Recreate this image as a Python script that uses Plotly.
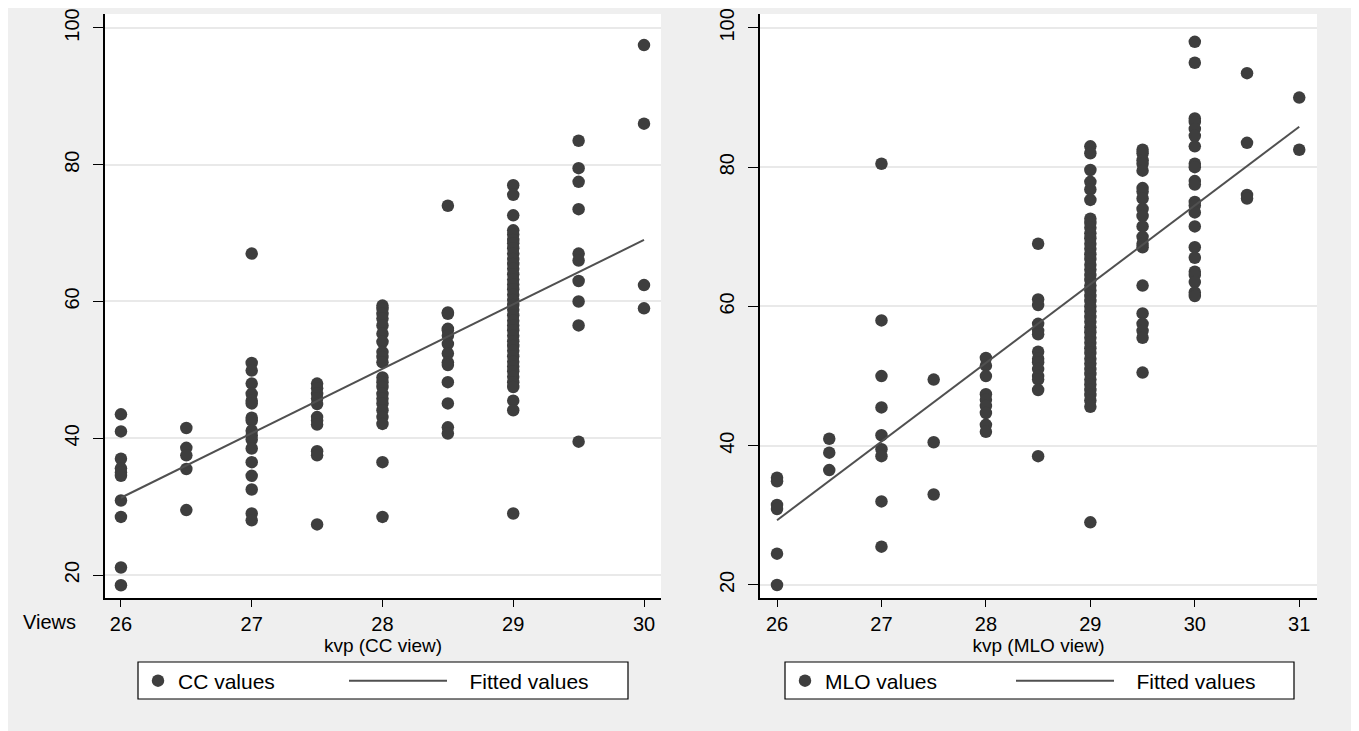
import plotly.graph_objects as go

W, H = 1359, 731
FONT = "Liberation Sans, Arial, sans-serif"

# ---- Data: CC view (left) ----
cc_26 = [43.5, 41.0, 37.0, 35.6, 35.0, 34.5, 30.9, 28.5, 21.1, 18.5]
cc_265 = [41.5, 38.6, 37.5, 35.5, 29.5]
cc_27 = [67.0, 51.0, 49.9, 48.0, 46.5, 45.5, 45.1, 43.0, 42.6, 41.1, 40.4,
         39.8, 38.5, 36.5, 34.5, 32.5, 29.0, 28.0]
cc_275 = [48.0, 47.3, 46.5, 45.8, 45.0, 43.1, 42.6, 42.0, 38.1, 37.5, 27.4]
cc_28 = [59.4, 58.9, 58.2, 57.5, 56.5, 55.3, 54.1, 52.6, 51.9, 51.1, 48.9,
         48.2, 47.5, 46.5, 45.8, 45.1, 44.1, 43.1, 42.1, 36.5, 28.5]
cc_285 = [74.0, 58.4, 58.2, 56.0, 55.8, 55.0, 53.8, 52.4, 51.1, 50.7, 48.2,
          45.1, 41.6, 40.7]
cc_29 = [77.0, 75.6, 72.6, 70.4, 69.8, 69.0, 68.5, 67.8, 67.0, 66.2, 65.5,
         64.8, 64.0, 63.2, 62.5, 61.8, 61.0, 60.2, 59.5, 58.8, 58.0, 57.2,
         56.5, 55.8, 55.0, 54.2, 53.5, 52.8, 52.0, 51.2, 50.5, 49.8, 49.0,
         48.2, 47.5, 45.5, 44.1, 29.0]
cc_295 = [83.5, 79.5, 77.5, 73.5, 67.0, 66.0, 63.0, 60.0, 56.5, 39.5]
cc_30 = [97.5, 86.0, 62.4, 59.0]
cc_levels = [26, 26.5, 27, 27.5, 28, 28.5, 29, 29.5, 30]
cc_groups = [cc_26, cc_265, cc_27, cc_275, cc_28, cc_285, cc_29, cc_295, cc_30]
cc_fit_x = [26, 30]
cc_fit_y = [31.3, 69.0]

# ---- Data: MLO view (right) ----
mlo_26 = [35.4, 34.9, 31.5, 30.9, 24.5, 20.0]
mlo_265 = [41.0, 39.0, 36.5]
mlo_27 = [80.5, 58.0, 50.0, 45.5, 41.5, 39.5, 38.5, 32.0, 25.5]
mlo_275 = [49.5, 40.5, 33.0]
mlo_28 = [52.6, 51.5, 50.0, 47.4, 46.6, 45.7, 44.7, 43.0, 42.0]
mlo_285 = [69.0, 61.0, 60.2, 57.5, 56.5, 56.0, 53.5, 52.5, 52.0, 51.0, 50.0,
           49.5, 48.0, 38.5]
mlo_29 = [83.0, 82.0, 79.6, 77.9, 76.8, 75.3, 72.6, 72.0, 71.3, 70.5, 69.8,
          69.0, 68.3, 67.5, 66.8, 66.0, 65.3, 64.5, 63.8, 63.0, 62.3, 61.5,
          60.8, 60.0, 59.3, 58.5, 57.8, 57.0, 56.3, 55.5, 54.8, 54.0, 53.3,
          52.5, 51.8, 51.0, 50.3, 49.5, 48.8, 48.0, 47.3, 46.5, 45.6, 29.0]
mlo_295 = [82.5, 82.0, 81.0, 80.5, 79.5, 77.0, 76.5, 75.5, 74.0, 73.0, 71.5,
           70.0, 69.0, 68.5, 63.0, 59.0, 57.5, 56.5, 55.5, 50.5]
mlo_30 = [98.0, 95.0, 87.0, 86.5, 85.5, 84.5, 83.0, 80.5, 80.0, 78.0, 77.5,
          75.0, 74.5, 73.5, 71.5, 68.5, 67.0, 65.0, 64.5, 63.5, 62.0, 61.5]
mlo_305 = [93.5, 83.5, 76.0, 75.5]
mlo_31 = [90.0, 82.5]
mlo_levels = [26, 26.5, 27, 27.5, 28, 28.5, 29, 29.5, 30, 30.5, 31]
mlo_groups = [mlo_26, mlo_265, mlo_27, mlo_275, mlo_28, mlo_285, mlo_29,
              mlo_295, mlo_30, mlo_305, mlo_31]
mlo_fit_x = [26, 31]
mlo_fit_y = [29.3, 85.8]

y_ticks = [20, 40, 60, 80, 100]
cc_x_ticks = [26, 27, 28, 29, 30]
mlo_x_ticks = [26, 27, 28, 29, 30, 31]


def flatten(levels, groups):
    xs, ys = [], []
    for lv, g in zip(levels, groups):
        for v in g:
            xs.append(lv)
            ys.append(v)
    return xs, ys


cc_x, cc_y = flatten(cc_levels, cc_groups)
mlo_x, mlo_y = flatten(mlo_levels, mlo_groups)

DOT = "#3e3e3e"
LINE = "#505050"
FIT_LABEL = "\u00a0\u00a0\u00a0Fitted values"

fig = go.Figure()
fig.add_trace(go.Scatter(x=cc_x, y=cc_y, mode="markers", name="CC values",
                         marker=dict(color=DOT, size=12.5), xaxis="x", yaxis="y",
                         legend="legend"))
fig.add_trace(go.Scatter(x=cc_fit_x, y=cc_fit_y, mode="lines", name=FIT_LABEL,
                         line=dict(color=LINE, width=2), xaxis="x", yaxis="y",
                         legend="legend3"))
fig.add_trace(go.Scatter(x=mlo_x, y=mlo_y, mode="markers", name="MLO values",
                         marker=dict(color=DOT, size=12.5), xaxis="x2", yaxis="y2",
                         legend="legend2"))
fig.add_trace(go.Scatter(x=mlo_fit_x, y=mlo_fit_y, mode="lines", name=FIT_LABEL,
                         line=dict(color=LINE, width=2), xaxis="x2", yaxis="y2",
                         legend="legend4"))

TICKFONT = dict(size=20, color="black", family=FONT)


def xaxis(domain, rng, ticks, title, anchor):
    return dict(domain=domain, range=rng, tickvals=ticks, ticktext=[str(t) for t in ticks],
                showgrid=False, zeroline=False, showline=True, linecolor="black",
                linewidth=1.5, ticks="outside", ticklen=7, tickwidth=1.2,
                tickcolor="black", tickfont=TICKFONT,
                title=dict(text=title, font=dict(size=19, color="black", family=FONT),
                           standoff=0),
                automargin=False, fixedrange=True, anchor=anchor)


def yaxis(domain, rng, anchor):
    return dict(domain=domain, range=rng, tickvals=y_ticks,
                ticktext=[str(t) for t in y_ticks], tickangle=-90,
                showgrid=True, gridcolor="#e9e9e9", gridwidth=1.5, zeroline=False,
                showline=True, linecolor="black", linewidth=1.5, ticks="outside",
                ticklen=10, tickwidth=1.2, tickcolor="black", tickfont=TICKFONT,
                ticklabelstandoff=6,
                automargin=False, fixedrange=True, anchor=anchor)


# figure pixel coords (page is offset by the 8px body margin)
def fx(p):
    return p / W


def fy(p):
    return 1 - p / H


ydom = [fy(590), fy(6)]
LEGFONT = dict(size=21, color="black", family=FONT)


def legend(x_px, iw):
    return dict(x=fx(x_px), y=fy(673), xanchor="left", yanchor="middle",
                orientation="h", bgcolor="rgba(0,0,0,0)", borderwidth=0,
                font=LEGFONT, itemwidth=iw)


fig.update_layout(
    width=W, height=H,
    margin=dict(l=0, r=0, t=0, b=0),
    paper_bgcolor="#efefef", plot_bgcolor="white",
    xaxis=xaxis([fx(97), fx(653)], [25.878, 30.13], cc_x_ticks, "kvp (CC view)", "y"),
    yaxis=yaxis(ydom, [16.64, 102.04], "x"),
    xaxis2=xaxis([fx(752), fx(1309)], [25.837, 31.17], mlo_x_ticks, "kvp (MLO view)", "y2"),
    yaxis2=yaxis(ydom, [18.13, 102.0], "x2"),
    legend=legend(130, 30),
    legend3=legend(336, 98),
    legend2=legend(777, 30),
    legend4=legend(1003, 98),
    showlegend=True,
    shapes=[
        dict(type="rect", xref="paper", yref="paper", x0=fx(130), x1=fx(620),
             y0=fy(691), y1=fy(654), fillcolor="white",
             line=dict(color="black", width=1.2), layer="below"),
        dict(type="rect", xref="paper", yref="paper", x0=fx(777), x1=fx(1286),
             y0=fy(691), y1=fy(654), fillcolor="white",
             line=dict(color="black", width=1.2), layer="below"),
    ],
    annotations=[
        dict(text="Views", x=fx(41), y=fy(614), xref="paper", yref="paper",
             showarrow=False, font=TICKFONT, xanchor="center", yanchor="middle"),
    ],
)

fig.write_html("out.html")
